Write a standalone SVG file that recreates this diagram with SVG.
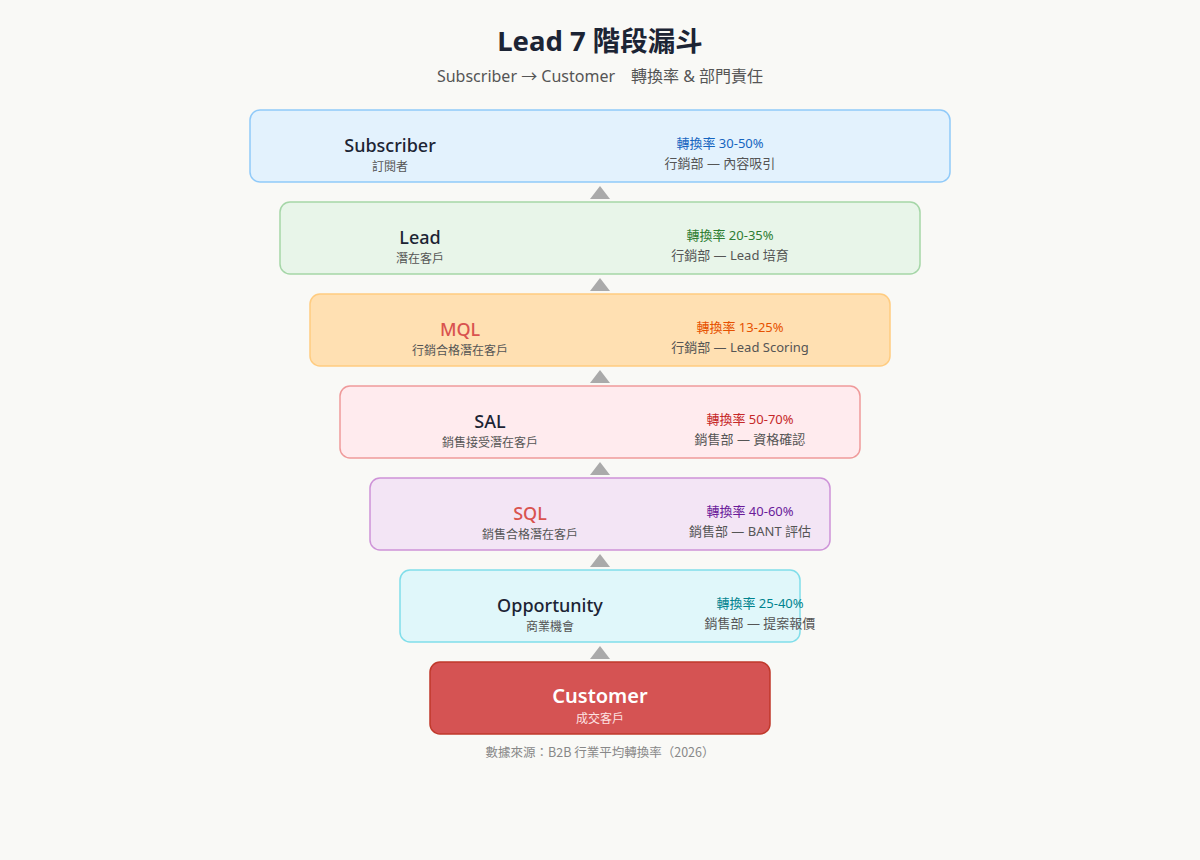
<svg xmlns="http://www.w3.org/2000/svg" width="1200" height="860" viewBox="0 0 1200 860">
<style>
.t{font-family:"Noto Sans","Noto Sans CJK TC",sans-serif;}
.title{font-size:27.5px;font-weight:700;fill:#1c2434;text-anchor:middle;}
.sub{font-size:16px;fill:#555;text-anchor:middle;}
.lab{font-size:18px;font-weight:500;fill:#1c2434;text-anchor:middle;}
.red{fill:#d9534f;}
.zh{font-size:12px;fill:#555;text-anchor:middle;}
.rate{font-size:13px;text-anchor:middle;}
.dept{font-size:13px;fill:#555;text-anchor:middle;}
.foot{font-family:"Noto Sans CJK TC",sans-serif;font-size:12.5px;fill:#888;text-anchor:middle;}
.box{stroke-width:1.5;}
.arr{fill:#aaaaaa;}
</style>
<rect width="1200" height="860" fill="#f9f9f6"/>
<text class="t title" x="600" y="51">Lead 7 階段漏斗</text>
<text class="t sub" x="600" y="82">Subscriber → Customer　轉換率 &amp; 部門責任</text>

<g id="subscriber">
<rect class="box" x="250" y="110" width="700" height="72" rx="10" fill="#e3f2fd" stroke="#90caf9"/>
<text class="t lab" x="390" y="152">Subscriber</text>
<text class="t zh" x="390" y="171">訂閱者</text>
<text class="t rate" x="720" y="148" fill="#1565c0">轉換率 30-50%</text>
<text class="t dept" x="720" y="168">行銷部 — 內容吸引</text>
</g>
<g id="lead">
<rect class="box" x="280" y="202" width="640" height="72" rx="10" fill="#e8f5e9" stroke="#a5d6a7"/>
<text class="t lab" x="420" y="244">Lead</text>
<text class="t zh" x="420" y="263">潛在客戶</text>
<text class="t rate" x="730" y="240" fill="#2e7d32">轉換率 20-35%</text>
<text class="t dept" x="730" y="260">行銷部 — Lead 培育</text>
</g>
<g id="mql">
<rect class="box" x="310" y="294" width="580" height="72" rx="10" fill="#ffe0b2" stroke="#ffcc80"/>
<text class="t lab red" x="460" y="336">MQL</text>
<text class="t zh" x="460" y="355">行銷合格潛在客戶</text>
<text class="t rate" x="740" y="332" fill="#e65100">轉換率 13-25%</text>
<text class="t dept" x="740" y="352">行銷部 — Lead Scoring</text>
</g>
<g id="sal">
<rect class="box" x="340" y="386" width="520" height="72" rx="10" fill="#ffebee" stroke="#ef9a9a"/>
<text class="t lab" x="490" y="428">SAL</text>
<text class="t zh" x="490" y="447">銷售接受潛在客戶</text>
<text class="t rate" x="750" y="424" fill="#c62828">轉換率 50-70%</text>
<text class="t dept" x="750" y="444">銷售部 — 資格確認</text>
</g>
<g id="sql">
<rect class="box" x="370" y="478" width="460" height="72" rx="10" fill="#f3e5f5" stroke="#ce93d8"/>
<text class="t lab red" x="530" y="520">SQL</text>
<text class="t zh" x="530" y="539">銷售合格潛在客戶</text>
<text class="t rate" x="750" y="516" fill="#6a1b9a">轉換率 40-60%</text>
<text class="t dept" x="750" y="536">銷售部 — BANT 評估</text>
</g>
<g id="opportunity">
<rect class="box" x="400" y="570" width="400" height="72" rx="10" fill="#e0f7fa" stroke="#80deea"/>
<text class="t lab" x="550" y="612">Opportunity</text>
<text class="t zh" x="550" y="631">商業機會</text>
<text class="t rate" x="760" y="608" fill="#00838f">轉換率 25-40%</text>
<text class="t dept" x="760" y="628">銷售部 — 提案報價</text>
</g>
<g id="customer">
<rect class="box" x="430" y="662" width="340" height="72" rx="10" fill="#d55353" stroke="#c0392b"/>
<text class="t lab" x="600" y="703" style="font-size:20px;font-weight:600;fill:#ffffff">Customer</text>
<text class="t zh" x="600" y="723" style="fill:#fde2e2">成交客戶</text>
</g>

<g id="connectors">
<polygon class="arr" points="600,186 590,199 610,199"/>
<polygon class="arr" points="600,278 590,291 610,291"/>
<polygon class="arr" points="600,370 590,383 610,383"/>
<polygon class="arr" points="600,462 590,475 610,475"/>
<polygon class="arr" points="600,554 590,567 610,567"/>
<polygon class="arr" points="600,646 590,659 610,659"/>
</g>

<text class="t foot" x="600" y="757">數據來源：B2B 行業平均轉換率（2026）</text>
</svg>
